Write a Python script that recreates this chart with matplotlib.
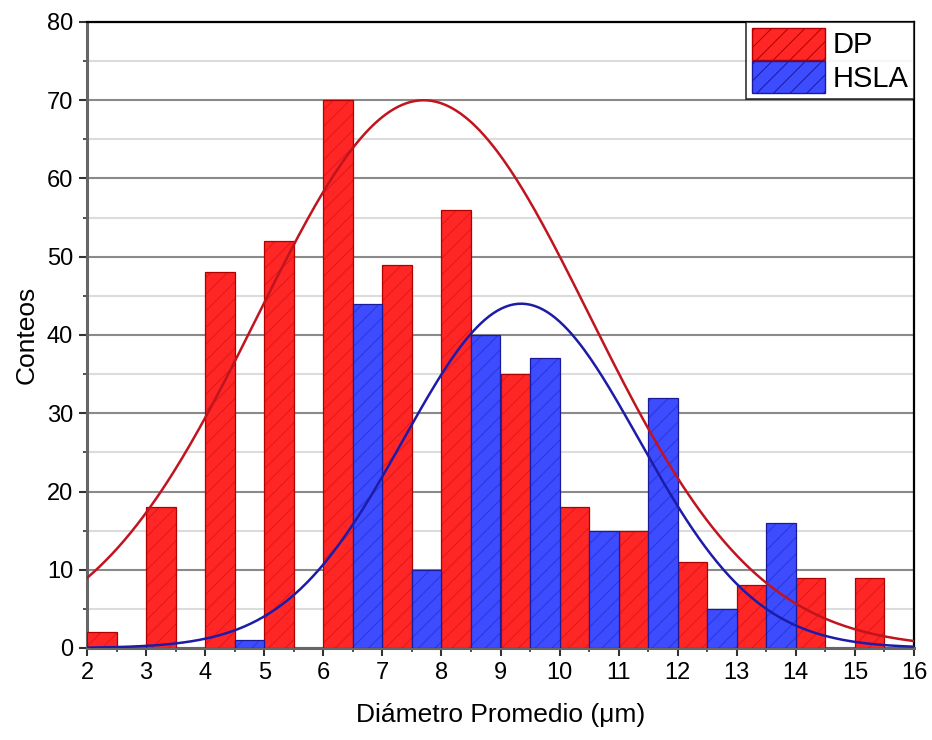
import numpy as np
import matplotlib.pyplot as plt
from matplotlib.patches import Patch

# histogram data (bin left edges, width 0.5)
dp_left = [2, 3, 4, 5, 6, 7, 8, 9, 10, 11, 12, 13, 14, 15]
dp_counts = [2, 18, 48, 52, 70, 49, 56, 35, 18, 15, 11, 8, 9, 9]
hsla_left = [4.5, 6.5, 7.5, 8.5, 9.5, 10.5, 11.5, 12.5, 13.5]
hsla_counts = [1, 44, 10, 40, 37, 15, 32, 5, 16]

# normal fit parameters: (centre, sigma, peak)
dp_fit = (7.7, 2.81, 70.0)
hsla_fit = (9.35, 1.99, 44.0)

x_ticks = list(range(2, 17))
y_ticks = list(range(0, 81, 10))

plt.rcParams["font.family"] = ["Liberation Sans", "DejaVu Sans"]
plt.rcParams["hatch.linewidth"] = 0.7

red, red_hatch, red_edge = "#ff2626", "#e01818", "#b00000"
blue, blue_hatch, blue_edge = "#3d4cff", "#2a36d8", "#1a1a9a"

fig = plt.figure(figsize=(9.32, 7.4), dpi=100)
ax = fig.add_axes([87 / 932, 92 / 740, 827 / 932, 626 / 740])

for left, counts, fc, hc, ec in [(dp_left, dp_counts, red, red_hatch, red_edge),
                                 (hsla_left, hsla_counts, blue, blue_hatch, blue_edge)]:
    # fill + hatch, then a darker outline on top
    ax.bar(left, counts, width=0.5, align="edge", color=fc, edgecolor=hc,
           hatch="//", linewidth=0, zorder=3)
    ax.bar(left, counts, width=0.5, align="edge", fill=False, edgecolor=ec,
           linewidth=0.9, zorder=3)

xs = np.linspace(2, 16, 400)
for (mu, sd, pk), col in [(dp_fit, "#c0141e"), (hsla_fit, "#1c1ca8")]:
    ax.plot(xs, pk * np.exp(-(xs - mu) ** 2 / (2 * sd ** 2)), color=col,
            lw=1.8, zorder=4)

ax.set_xlim(2, 16)
ax.set_ylim(0, 80)
ax.set_xticks(x_ticks)
ax.set_yticks(y_ticks)
ax.set_xticks(np.arange(2.5, 16, 1), minor=True)
ax.set_yticks(np.arange(5, 80, 10), minor=True)
ax.tick_params(axis="both", which="major", direction="out", length=6,
               width=1.5, labelsize=17, color="#333333", pad=4)
ax.tick_params(axis="both", which="minor", direction="out", length=3,
               width=1.2, color="#333333")

ax.grid(axis="y", which="major", color="#8a8a8a", lw=1.5, zorder=1)
ax.grid(axis="y", which="minor", color="#dcdcdc", lw=1.5, zorder=1)

ax.spines["left"].set_color("#666666")
ax.spines["bottom"].set_color("#666666")
for s in ["left", "bottom"]:
    ax.spines[s].set_linewidth(2.2)
for s in ["top", "right"]:
    ax.spines[s].set_color("black")
    ax.spines[s].set_linewidth(1.6)

ax.set_xlabel("Diámetro Promedio (μm)", fontsize=19, labelpad=14)
ax.set_ylabel("Conteos", fontsize=19, labelpad=6)

handles = [Patch(facecolor=red, edgecolor=red_edge, hatch="//"),
           Patch(facecolor=blue, edgecolor=blue_edge, hatch="//")]
leg = ax.legend(handles, ["DP", "HSLA"], loc="upper right", fontsize=21,
                frameon=True, fancybox=False, edgecolor="black",
                borderaxespad=0, handlelength=2.5, handleheight=1.3,
                handletextpad=0.25, borderpad=0.2, labelspacing=0.05)
leg.get_frame().set_linewidth(1.2)

fig.savefig("out.png", dpi=100)
